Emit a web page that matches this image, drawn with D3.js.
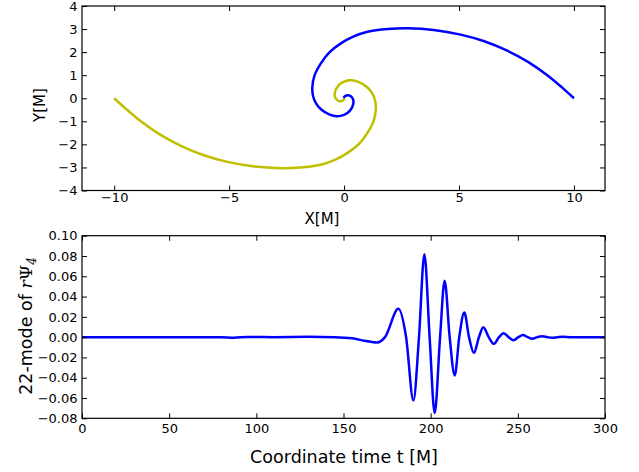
<!DOCTYPE html>
<html>
<head>
<meta charset="utf-8">
<script src="https://cdn.jsdelivr.net/npm/d3@7"></script>
<style>
  body { margin: 0; background: #fff; }
  svg { display: block; font-family: "DejaVu Sans", sans-serif; }
</style>
</head>
<body>
<div id="chart"></div>
<script>
// orbit of hole 1 (blue), X[M] / Y[M]
const blueX = [10, 9.5, 8.84, 8.0, 7.1, 6.1, 5.07, 3.9, 2.76, 1.9, 1.02, 0.4, -0.14, -0.65, -1.01, -1.28, -1.38, -1.35, -1.22, -0.98, -0.65, -0.32, 0.0, 0.25, 0.4, 0.38, 0.25, 0.1, -0.03];
const blueY = [0, 0.45, 1.0, 1.58, 2.06, 2.47, 2.76, 2.96, 3.03, 3.0, 2.88, 2.67, 2.38, 1.98, 1.51, 1.0, 0.49, 0.1, -0.22, -0.5, -0.7, -0.78, -0.72, -0.55, -0.25, -0.02, 0.11, 0.12, 0.02];
// orbit of hole 2 (yellow)
const yellowX = [-10, -9.5, -8.84, -8.0, -7.1, -6.1, -5.07, -3.9, -2.76, -1.9, -1.02, -0.4, 0.14, 0.65, 1.01, 1.28, 1.38, 1.35, 1.22, 0.98, 0.65, 0.32, 0.0, -0.25, -0.4, -0.38, -0.25, -0.1, 0.03];
const yellowY = [0, -0.45, -1.0, -1.58, -2.06, -2.47, -2.76, -2.96, -3.03, -3.0, -2.88, -2.67, -2.38, -1.98, -1.51, -1.0, -0.49, -0.1, 0.22, 0.5, 0.7, 0.78, 0.72, 0.55, 0.25, 0.02, -0.11, -0.12, -0.02];

// 22-mode of r*Psi4 vs coordinate time
const waveT = [0, 50, 80, 87, 95, 110, 130, 145, 155, 162, 169.4, 173.8, 181.5, 185.9, 190.1, 193.3, 196.4, 199.4, 202.3, 205.4, 208.0, 210.9, 213.8, 216.4, 219.3, 222.0, 224.8, 227.7, 230.2, 233.3, 236.3, 239.2, 241.9, 244.7, 247.6, 250.3, 253, 255.6, 258.3, 261.2, 264, 267, 269.7, 273, 276, 280, 300];
const waveH = [0, 0, 0, -0.0006, 0.0002, 0, 0.0003, 0, -0.0012, -0.0035, -0.0053, 0, 0.0279, 0, -0.0624, 0, 0.0817, 0, -0.0748, 0, 0.0557, 0, -0.0378, 0, 0.0242, 0, -0.0155, 0, 0.0098, 0, -0.0066, 0, 0.0039, 0, -0.003, 0, 0.002, 0, -0.0016, 0, 0.0008, 0, -0.0006, 0, 0.0003, 0, 0];

const orbitXTicks = [-10, -5, 0, 5, 10];
const orbitYTicks = [-4, -3, -2, -1, 0, 1, 2, 3, 4];
const waveXTicks = [0, 50, 100, 150, 200, 250, 300];
const waveYTicks = [-0.08, -0.06, -0.04, -0.02, 0, 0.02, 0.04, 0.06, 0.08, 0.10];

const width = 639, height = 472;
const svg = d3.select('#chart').append('svg').attr('width', width).attr('height', height);

const left = 82, right = 605;
const tick = 5;

function frame(g, x, y, xTicks, yTicks, xFmt, yFmt, xPad) {
    const [x0, x1] = x.range();
    const [y0, y1] = y.range();
    g.append('g').attr('transform', 'translate(0,' + y0 + ')')
        .call(d3.axisBottom(x).tickValues(xTicks).tickFormat(xFmt).tickSizeInner(-tick).tickSizeOuter(0).tickPadding(xPad));
    g.append('g').attr('transform', 'translate(0,' + y1 + ')')
        .call(d3.axisTop(x).tickValues(xTicks).tickFormat('').tickSizeInner(-tick).tickSizeOuter(0));
    g.append('g').attr('transform', 'translate(' + x0 + ',0)')
        .call(d3.axisLeft(y).tickValues(yTicks).tickFormat(yFmt).tickSizeInner(-tick).tickSizeOuter(0).tickPadding(4.5));
    g.append('g').attr('transform', 'translate(' + x1 + ',0)')
        .call(d3.axisRight(y).tickValues(yTicks).tickFormat('').tickSizeInner(-tick).tickSizeOuter(0));
    g.selectAll('.domain').remove();
    g.selectAll('.tick line').attr('stroke', '#000').attr('stroke-width', 1);
    g.selectAll('.tick text').attr('font-size', '13px').attr('fill', '#000')
        .attr('font-family', '"DejaVu Sans", sans-serif');
    g.append('rect')
        .attr('x', x0).attr('y', y1)
        .attr('width', x1 - x0).attr('height', y0 - y1)
        .attr('fill', 'none').attr('stroke', '#000').attr('stroke-width', 1.2);
}

// 上图：轨道
const gTop = svg.append('g');
const xOrb = d3.scaleLinear().domain([-11.4, 11.35]).range([left, right]);
const yOrb = d3.scaleLinear().domain([-4, 4]).range([190.5, 6]);

const orbLine = d3.line()
    .x(d => xOrb(d[0]))
    .y(d => yOrb(d[1]))
    .curve(d3.curveCatmullRom.alpha(0.5));

gTop.append('path').datum(d3.zip(yellowX, yellowY))
    .attr('fill', 'none').attr('stroke', '#bfbf00').attr('stroke-width', 2.5)
    .attr('d', orbLine);
gTop.append('path').datum(d3.zip(blueX, blueY))
    .attr('fill', 'none').attr('stroke', '#0000ff').attr('stroke-width', 2.5)
    .attr('d', orbLine);

frame(gTop, xOrb, yOrb, orbitXTicks, orbitYTicks, d3.format('d'), d3.format('d'), 2);

gTop.append('text').attr('x', 322).attr('y', 224)
    .attr('text-anchor', 'middle').attr('font-size', '15px').text('X[M]');
gTop.append('text').attr('transform', 'translate(45,105) rotate(-90)')
    .attr('text-anchor', 'middle').attr('font-size', '15px').text('Y[M]');

// 下图：波形
const gBot = svg.append('g');
const xWave = d3.scaleLinear().domain([0, 300]).range([left, right]);
const yWave = d3.scaleLinear().domain([-0.08, 0.10]).range([418.3, 235.7]);

const waveLine = d3.line()
    .x(d => xWave(d[0]))
    .y(d => yWave(d[1]))
    .curve(d3.curveMonotoneX);

gBot.append('path').datum(d3.zip(waveT, waveH))
    .attr('fill', 'none').attr('stroke', '#0000ff').attr('stroke-width', 2.5)
    .attr('d', waveLine);

frame(gBot, xWave, yWave, waveXTicks, waveYTicks, d3.format('d'), d3.format('.2f'), 5.5);

gBot.append('text').attr('x', 344).attr('y', 463)
    .attr('text-anchor', 'middle').attr('font-size', '17.5px').text('Coordinate time t [M]');

const yl = gBot.append('text').attr('transform', 'translate(32,326) rotate(-90)')
    .attr('text-anchor', 'middle').attr('font-size', '17.5px');
yl.append('tspan').text('22-mode of ');
yl.append('tspan').attr('font-family', '"DejaVu Serif", serif').attr('font-style', 'italic').text('r');
yl.append('tspan').attr('font-family', '"DejaVu Serif", serif').text('Ψ');
yl.append('tspan').attr('font-family', '"DejaVu Serif", serif').attr('font-style', 'italic')
    .attr('font-size', '12px').attr('dy', '4').text('4');
</script>
</body>
</html>
